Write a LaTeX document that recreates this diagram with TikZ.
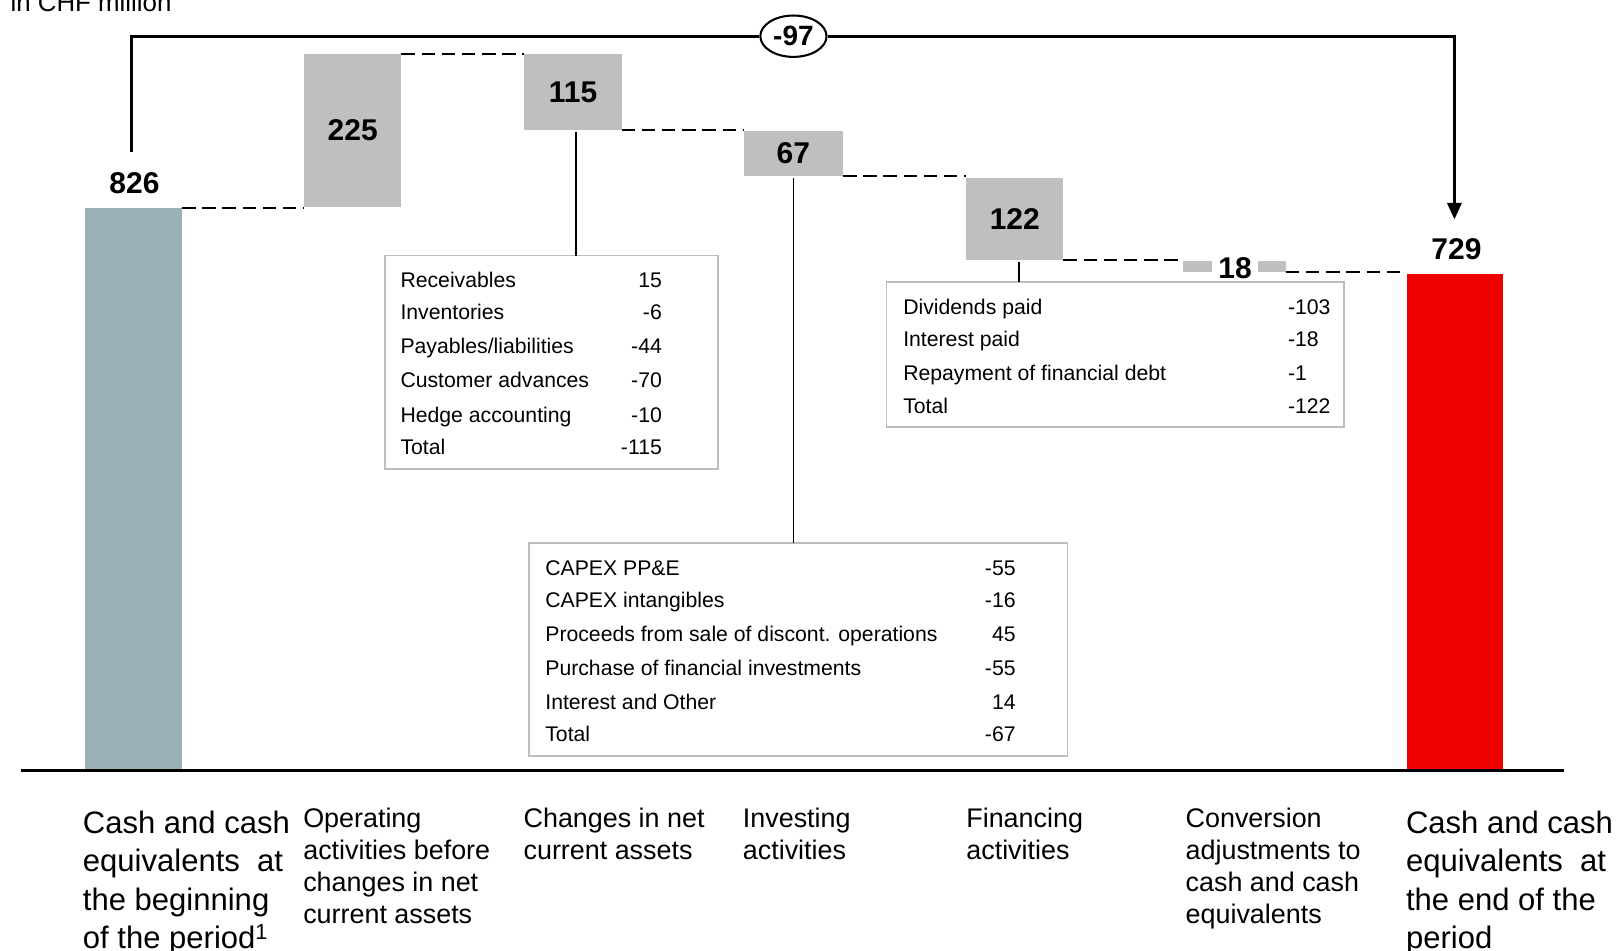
\documentclass[tikz,border=0pt]{standalone}
\usepackage{fontspec}
\setmainfont{Liberation Sans}
\usetikzlibrary{shapes.geometric,arrows.meta}
\definecolor{barblue}{HTML}{9BAFB7}
\definecolor{boxgray}{HTML}{BFBFBF}
\definecolor{barred}{HTML}{EE0000}
\definecolor{framegray}{HTML}{BEBEBE}
\begin{document}
\begin{tikzpicture}[x=1pt,y=-1pt,
  gbox/.style={fill=boxgray, draw=none, inner sep=0pt, outer sep=0pt, anchor=north west},
  num/.style={font=\fontsize{29pt}{34pt}\selectfont\bfseries, inner sep=0pt},
  dashline/.style={dash pattern=on 13pt off 6.5pt, line width=2pt},
  topline/.style={line width=2.5pt},
  conn/.style={line width=1.5pt},
  tbox/.style={draw=framegray, line width=1.8pt, inner sep=0pt, outer sep=0pt, anchor=north west},
  rowtxt/.style={font=\fontsize{20.5pt}{24pt}\selectfont, inner sep=0pt},
  catsmall/.style={font=\fontsize{26pt}{31pt}\selectfont, align=left, inner sep=0pt, anchor=north west},
  catbig/.style={font=\fontsize{30pt}{37pt}\selectfont, align=left, inner sep=0pt, anchor=north west}]
\useasboundingbox (0,0) rectangle (1568,919);

\node[font=\fontsize{25pt}{30pt}\selectfont, anchor=base west, inner sep=0pt] (unit) at (10,11) {in CHF million};

% bars
\node[gbox, fill=barblue, minimum width=94pt, minimum height=544pt] (b0) at (82,201) {};
\node[gbox, minimum width=94pt, minimum height=148pt] (b1) at (294,52) {};
\node[gbox, minimum width=94pt, minimum height=74pt] (b2) at (507,52) {};
\node[gbox, minimum width=96pt, minimum height=43pt] (b3) at (719,127) {};
\node[gbox, minimum width=94pt, minimum height=79pt] (b4) at (934,172) {};
\node[gbox, minimum width=99pt, minimum height=11pt] (b5) at (1144,252) {};
\node[gbox, fill=barred, minimum width=93pt, minimum height=480pt] (b6) at (1360,265) {};

% values
\node[num] (v0) at (130,177) {826};
\node[num] (v1) at (b1.center) {225};
\node[num] (v2) at (b2.center) {115};
\node[num] (v3) at (b3.center) {67};
\node[num] (v4) at (b4.center) {122};
\node[num, fill=white, inner xsep=6pt, inner ysep=1pt] (v5) at (1194,259) {18};
\node[num] (v6) at (1408,241) {729};

% dashed links
\draw[dashline] (b0.north east) -- (b0.north east -| b1.west);
\draw[dashline] (b1.north east) -- (b2.north west);
\draw[dashline] (b2.south east) -- (b2.south east -| b3.west);
\draw[dashline] (b3.south east) -- (b3.south east -| b4.west);
\draw[dashline] (b4.south east) -- (b4.south east -| b5.west);
\draw[dashline] (b5.south east) -- (b5.south east -| b6.west);

% total change
\node[ellipse, draw, line width=2pt, minimum width=64pt, minimum height=40pt, inner sep=0pt,
  font=\fontsize{27pt}{32pt}\selectfont\bfseries] (d97) at (767,35) {-97};
\coordinate (s0) at (127,147);
\coordinate (e0) at (1406,212);
\draw[topline] (s0) |- (d97.west);
\draw[topline, -{Triangle[length=16pt,width=14pt]}] (d97.east) -| (e0);

% axis
\coordinate (ax0) at (20,745);
\coordinate (ax1) at (1512,745);
\draw[line width=2.5pt] (ax0) -- (ax1);

% table 1
\node[tbox, minimum width=322pt, minimum height=206pt] (t1) at (372,247) {};
\draw[conn] ([xshift=3pt,yshift=-2pt]b2.south) -- ([xshift=3pt]b2.south |- t1.north);
\node[rowtxt, anchor=base west] (t1a1) at (387,278) {Receivables};
\node[rowtxt, anchor=base east] (t1b1) at (640,278) {15};
\node[rowtxt, anchor=base west] (t1a2) at (387,309) {Inventories};
\node[rowtxt, anchor=base east] (t1b2) at (640,309) {-6};
\node[rowtxt, anchor=base west] (t1a3) at (387,342) {Payables/liabilities};
\node[rowtxt, anchor=base east] (t1b3) at (640,342) {-44};
\node[rowtxt, anchor=base west] (t1a4) at (387,375) {Customer advances};
\node[rowtxt, anchor=base east] (t1b4) at (640,375) {-70};
\node[rowtxt, anchor=base west] (t1a5) at (387,408) {Hedge accounting};
\node[rowtxt, anchor=base east] (t1b5) at (640,408) {-10};
\node[rowtxt, anchor=base west] (t1a6) at (387,439) {Total};
\node[rowtxt, anchor=base east] (t1b6) at (640,439) {-115};

% table 2
\node[tbox, minimum width=521pt, minimum height=206pt] (t2) at (511,525) {};
\draw[conn] ([yshift=-2pt]b3.south) -- (b3.south |- t2.north);
\node[rowtxt, anchor=base west] (t2a1) at (527,556) {CAPEX PP\&E};
\node[rowtxt, anchor=base east] (t2b1) at (982,556) {-55};
\node[rowtxt, anchor=base west] (t2a2) at (527,587) {CAPEX intangibles};
\node[rowtxt, anchor=base east] (t2b2) at (982,587) {-16};
\node[rowtxt, anchor=base west] (t2a3) at (527,620) {Proceeds from sale of discont. operations};
\node[rowtxt, anchor=base east] (t2b3) at (982,620) {45};
\node[rowtxt, anchor=base west] (t2a4) at (527,653) {Purchase of financial investments};
\node[rowtxt, anchor=base east] (t2b4) at (982,653) {-55};
\node[rowtxt, anchor=base west] (t2a5) at (527,686) {Interest and Other};
\node[rowtxt, anchor=base east] (t2b5) at (982,686) {14};
\node[rowtxt, anchor=base west] (t2a6) at (527,717) {Total};
\node[rowtxt, anchor=base east] (t2b6) at (982,717) {-67};

% table 3
\node[tbox, minimum width=442pt, minimum height=140pt] (t3) at (857,273) {};
\draw[conn] ([xshift=4pt,yshift=-2pt]b4.south) -- ([xshift=4pt]b4.south |- t3.north);
\node[rowtxt, anchor=base west] (t3a1) at (873,304) {Dividends paid};
\node[rowtxt, anchor=base west] (t3b1) at (1245,304) {-103};
\node[rowtxt, anchor=base west] (t3a2) at (873,335) {Interest paid};
\node[rowtxt, anchor=base west] (t3b2) at (1245,335) {-18};
\node[rowtxt, anchor=base west] (t3a3) at (873,368) {Repayment of financial debt};
\node[rowtxt, anchor=base west] (t3b3) at (1245,368) {-1};
\node[rowtxt, anchor=base west] (t3a4) at (873,400) {Total};
\node[rowtxt, anchor=base west] (t3b4) at (1245,400) {-122};

% categories
\node[catbig] (c0) at (80,784) {Cash and cash\\equivalents~ at\\the beginning\\of the period\textsuperscript{1}};
\node[catsmall] (c1) at (293,781) {Operating\\activities before\\changes in net\\current assets};
\node[catsmall] (c2) at (506,781) {Changes in net\\current assets};
\node[catsmall] (c3) at (718,781) {Investing\\activities};
\node[catsmall] (c4) at (934,781) {Financing\\activities};
\node[catsmall] (c5) at (1146,781) {Conversion\\adjustments to\\cash and cash\\equivalents};
\node[catbig] (c6) at (1359,784) {Cash and cash\\equivalents~ at\\the end of the\\period};
\end{tikzpicture}
\end{document}
